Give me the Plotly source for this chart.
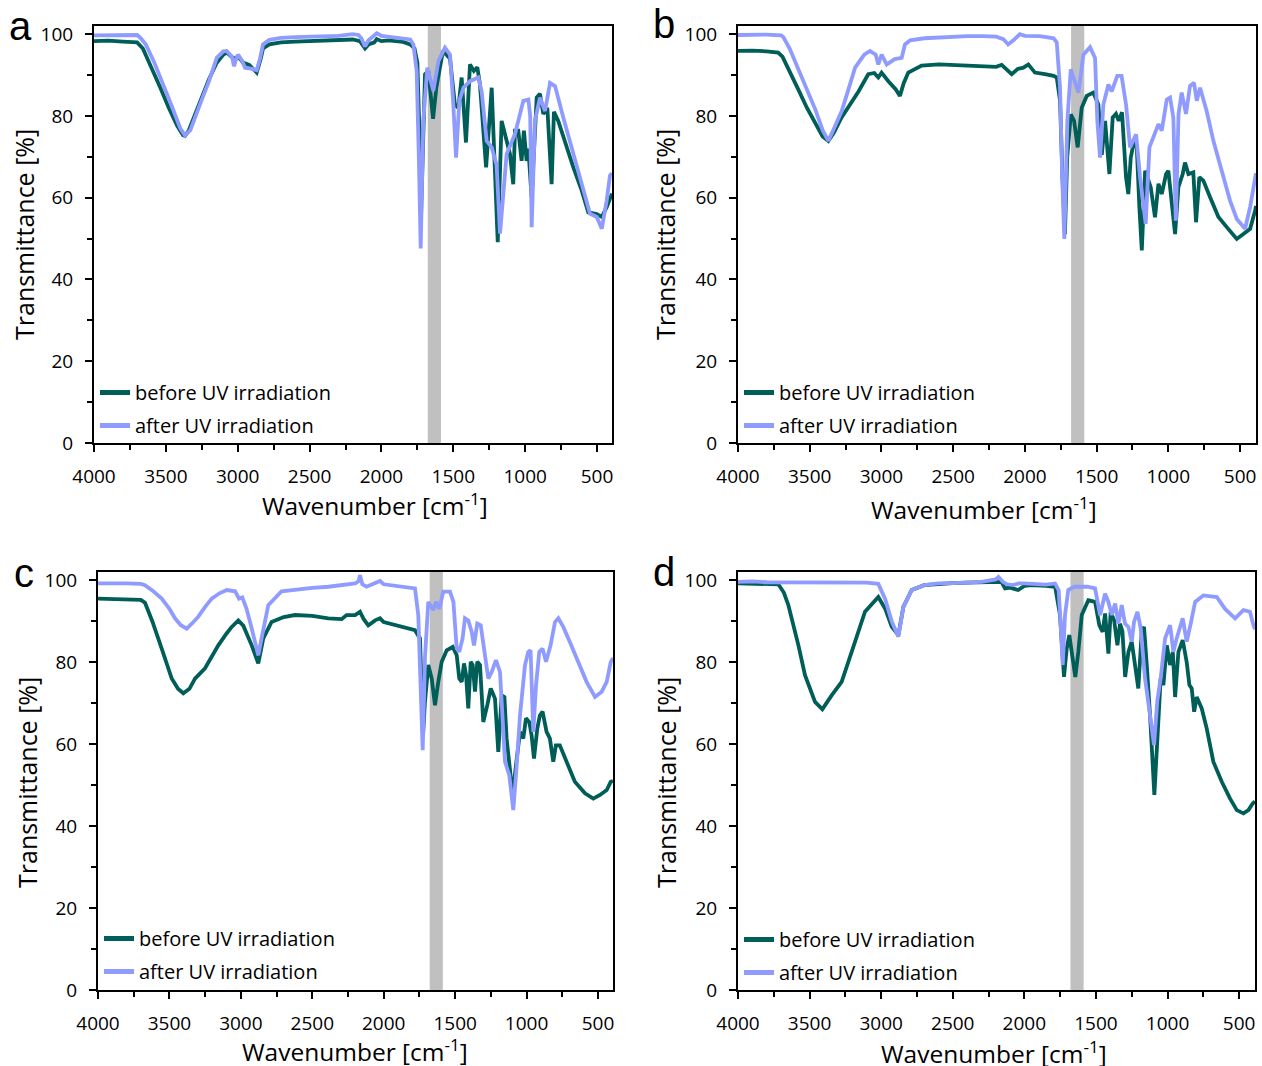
import plotly.graph_objects as go

W, H = 1262, 1066

# ---------------- data (wavenumber cm-1, transmittance %) ----------------
wn_a_before = [4000, 3900, 3800, 3700, 3660, 3600, 3540, 3480, 3420, 3380, 3367, 3340, 3300, 3262, 3200, 3146, 3100, 3077, 3040, 3026, 2998, 2960, 2920, 2868, 2840, 2824, 2780, 2700, 2600, 2500, 2400, 2300, 2200, 2150, 2114, 2090, 2050, 2033, 2000, 1950, 1900, 1850, 1800, 1770, 1750, 1735, 1725, 1712, 1697, 1674, 1641, 1618, 1572, 1523, 1489, 1465, 1442, 1412, 1384, 1357, 1333, 1315, 1272, 1249, 1233, 1217, 1191, 1164, 1141, 1106, 1083, 1071, 1048, 1025, 1009, 990, 978, 955, 920, 897, 874, 846, 816, 800, 770, 712, 665, 607, 561, 502, 467, 433, 410, 396]
t_a_before = [98.3, 98.4, 98.2, 98.0, 96.5, 92, 87, 82, 77.5, 75.3, 75.1, 76.5, 80, 83, 89, 93, 95, 95.5, 94.5, 94, 94.5, 93, 92.5, 90.6, 94, 96.5, 97.5, 98, 98.2, 98.3, 98.6, 98.6, 98.7, 98.3, 96.5, 97.5, 98, 98.8, 98.3, 98.5, 98.3, 98.1, 97.5, 96.5, 93, 75, 55, 75, 90.2, 91, 79.3, 87, 95.9, 94, 82.8, 82, 89.4, 73.5, 92.6, 91, 91.9, 87.8, 67.4, 78.8, 86.9, 72.3, 49.1, 78.8, 75.6, 70.7, 63.3, 76.4, 76.4, 69, 76.4, 69, 72, 60, 84.5, 85.4, 80.5, 82, 63.3, 81, 78.8, 72.3, 67.4, 61.8, 56.4, 56, 55.3, 57.7, 60, 61]

wn_a_after = [4000, 3900, 3800, 3700, 3680, 3640, 3580, 3520, 3460, 3400, 3367, 3330, 3290, 3262, 3200, 3146, 3100, 3077, 3040, 3026, 3010, 2998, 2970, 2949, 2900, 2868, 2845, 2824, 2780, 2700, 2600, 2500, 2400, 2300, 2200, 2160, 2140, 2114, 2090, 2060, 2033, 2000, 1950, 1900, 1850, 1800, 1778, 1755, 1740, 1727, 1709, 1681, 1639, 1604, 1558, 1523, 1500, 1481, 1458, 1430, 1384, 1326, 1303, 1268, 1233, 1199, 1175, 1150, 1129, 1071, 1013, 978, 965, 955, 945, 932, 897, 862, 827, 792, 735, 665, 607, 549, 502, 467, 433, 410, 396]
t_a_after = [99.7, 99.8, 99.9, 99.8, 99.2, 97.5, 93, 88, 82.5, 77, 75.2, 76.5, 80, 82.9, 88.5, 94.2, 95.8, 95.9, 94.5, 92.2, 94, 95, 93.5, 91.8, 91.5, 91.2, 94, 97.5, 98.6, 99.1, 99.3, 99.4, 99.5, 99.6, 100, 99.8, 99, 97, 98.5, 99.5, 100.2, 99.6, 99.4, 99.2, 99, 98.7, 97.5, 91, 70, 47.6, 78.8, 91.8, 86.1, 93.4, 96.7, 95, 82.8, 69.8, 83.7, 86.9, 88.5, 89.4, 86, 73.9, 72.3, 68, 51.2, 62, 70.7, 75.6, 83.7, 84, 80, 52.8, 65, 78.8, 84.5, 81.2, 88.1, 87.3, 79.6, 70.7, 64.1, 56.1, 55.3, 52.4, 59.3, 65.4, 66]

wn_b_before = [4000, 3900, 3800, 3720, 3690, 3640, 3580, 3520, 3460, 3410, 3370, 3330, 3280, 3231, 3160, 3092, 3050, 3022, 2999, 2952, 2900, 2871, 2845, 2813, 2720, 2600, 2500, 2400, 2300, 2200, 2162, 2120, 2092, 2050, 2010, 1976, 1930, 1860, 1800, 1778, 1755, 1738, 1721, 1705, 1680, 1657, 1632, 1604, 1569, 1523, 1488, 1464, 1441, 1411, 1388, 1365, 1346, 1323, 1295, 1279, 1262, 1239, 1220, 1202, 1185, 1162, 1146, 1123, 1093, 1069, 1046, 1016, 1000, 976, 953, 930, 900, 884, 860, 826, 807, 784, 756, 709, 651, 593, 523, 477, 430, 395, 389]
t_b_before = [95.9, 96, 95.8, 95.5, 94.5, 91, 86.5, 82, 78, 75, 73.9, 76, 79.5, 82, 86, 90.2, 90.5, 89.4, 90.6, 88.5, 86.5, 84.9, 88, 90.6, 92.3, 92.6, 92.5, 92.3, 92.2, 92, 92.5, 91, 90.2, 91.5, 91.8, 92.6, 90.6, 90.2, 89.8, 89.4, 83.7, 65, 51.1, 70, 80.4, 78.8, 72.3, 82, 84.9, 85.7, 82.8, 70.5, 78.8, 65.8, 79.6, 80.5, 78.8, 80.9, 65, 60.9, 69.8, 73.9, 72.3, 57.7, 47.1, 66.6, 65, 62.6, 55.2, 63.4, 60.9, 65.8, 66.6, 57.7, 51.1, 62.6, 65.8, 68.6, 65.8, 66.2, 54, 65, 64.2, 60.1, 55.3, 52.8, 49.9, 51.1, 52.4, 56.9, 58]

wn_b_after = [4000, 3900, 3800, 3700, 3684, 3640, 3580, 3520, 3460, 3410, 3370, 3330, 3277, 3230, 3184, 3120, 3080, 3040, 3022, 2999, 2963, 2907, 2859, 2836, 2800, 2700, 2600, 2500, 2400, 2300, 2200, 2150, 2117, 2080, 2035, 2000, 1950, 1900, 1850, 1800, 1778, 1755, 1740, 1725, 1704, 1680, 1627, 1592, 1546, 1511, 1495, 1476, 1453, 1418, 1395, 1356, 1326, 1295, 1267, 1225, 1197, 1158, 1132, 1104, 1069, 1046, 1011, 988, 965, 948, 929, 907, 877, 849, 821, 802, 779, 733, 686, 628, 570, 523, 465, 430, 395, 389]
t_b_after = [99.8, 99.9, 99.9, 99.7, 99.3, 96.5, 91.5, 86.5, 81.5, 76.5, 73.9, 77, 81.2, 86.5, 91.8, 95, 95.9, 95, 92.6, 95, 92.6, 93.9, 94.2, 97.5, 98.5, 99, 99.2, 99.4, 99.5, 99.5, 99.4, 98.8, 97.5, 98.5, 100, 99.6, 99.6, 99.5, 99.3, 99, 98, 86.9, 65, 49.9, 78.8, 91.4, 85.7, 95, 96.8, 94.2, 78.8, 69.8, 82.8, 87.7, 86, 89.8, 89.8, 82.8, 72.3, 75.5, 65, 53.6, 72.3, 74.7, 78, 76.4, 84, 84.5, 79.6, 54.4, 80.5, 85.7, 80.5, 87.3, 88.1, 83.7, 86.9, 81.2, 73.9, 66.6, 59.3, 54.8, 52.4, 57.7, 65, 66]

wn_c_before = [4000, 3900, 3800, 3700, 3671, 3620, 3554, 3484, 3440, 3403, 3360, 3321, 3251, 3200, 3158, 3100, 3064, 3018, 2983, 2924, 2878, 2843, 2785, 2700, 2621, 2500, 2388, 2294, 2260, 2200, 2166, 2140, 2108, 2060, 2026, 2000, 1950, 1900, 1850, 1781, 1746, 1735, 1725, 1712, 1688, 1664, 1641, 1618, 1594, 1559, 1517, 1489, 1471, 1454, 1438, 1424, 1408, 1391, 1377, 1361, 1345, 1326, 1303, 1275, 1251, 1221, 1198, 1174, 1155, 1140, 1116, 1097, 1074, 1046, 1023, 1004, 981, 965, 948, 925, 907, 888, 860, 837, 813, 795, 767, 720, 662, 591, 533, 486, 439, 411, 395]
t_c_before = [95.5, 95.4, 95.3, 95.2, 94.5, 90, 83.3, 76, 73.5, 72.4, 73.5, 76, 78.5, 81.5, 84.1, 87, 88.6, 90.2, 88.9, 84.1, 79.7, 85.8, 89.8, 91, 91.5, 91.3, 90.7, 90.5, 91.5, 91.5, 92.3, 90.5, 89, 90.2, 90.7, 89.8, 89.3, 88.8, 88.5, 87.8, 85.8, 75, 62, 70, 79.3, 76, 69.5, 75.2, 80.1, 82.9, 83.7, 81.7, 76, 75.2, 79.7, 77, 68.7, 80.1, 79.3, 72.8, 80.1, 79.3, 65.4, 69.5, 73.6, 71.1, 58.1, 71.9, 71.5, 61.4, 53.3, 47.6, 54.9, 63, 61.4, 66.3, 65.4, 62.2, 56.5, 63.8, 67, 67.9, 63, 61.4, 55.7, 59.7, 59.7, 55.7, 50.8, 48, 46.7, 47.6, 48.8, 50.8, 51]

wn_c_after = [4000, 3900, 3800, 3700, 3671, 3620, 3554, 3500, 3461, 3420, 3379, 3340, 3298, 3250, 3204, 3150, 3099, 3040, 3013, 2990, 2960, 2924, 2878, 2855, 2808, 2715, 2600, 2500, 2388, 2300, 2200, 2175, 2166, 2150, 2120, 2080, 2040, 2026, 2000, 1950, 1900, 1850, 1781, 1758, 1740, 1727, 1711, 1688, 1653, 1634, 1611, 1583, 1536, 1512, 1489, 1471, 1448, 1431, 1408, 1384, 1368, 1345, 1321, 1291, 1268, 1244, 1214, 1186, 1151, 1121, 1093, 1069, 1046, 1011, 988, 972, 953, 934, 911, 888, 864, 832, 801, 778, 743, 697, 638, 580, 521, 474, 439, 411, 395]
t_c_after = [99.2, 99.3, 99.2, 99.1, 98.8, 97.5, 95.5, 93, 90.7, 89, 88.2, 89.5, 91.1, 93.5, 95.5, 96.8, 97.6, 97.3, 95.5, 95.8, 93, 88.2, 81.7, 85.8, 93.9, 97.3, 97.8, 98.1, 98.4, 98.7, 99.2, 99.8, 101.2, 99, 98.4, 99, 99.6, 99.8, 99, 98.8, 98.7, 98.5, 98, 91.5, 75, 58.5, 81.3, 94.7, 92.7, 94.7, 93, 97.2, 97.2, 94.7, 83.3, 82.5, 85.8, 90.7, 90.2, 87.4, 84.1, 89.4, 89, 80.9, 76, 77.6, 80.5, 77.6, 55.7, 52.4, 43.9, 54.9, 67, 79.3, 82.5, 82.9, 63, 74.3, 82.5, 83.3, 80.1, 84.1, 89.8, 90.7, 88.6, 84.9, 80, 75.2, 71.5, 72.8, 75.2, 80, 81]

wn_d_before = [4000, 3900, 3800, 3718, 3680, 3648, 3578, 3532, 3462, 3411, 3346, 3276, 3206, 3113, 3020, 2973, 2926, 2880, 2845, 2787, 2700, 2600, 2500, 2400, 2300, 2200, 2160, 2135, 2100, 2043, 2000, 1950, 1900, 1850, 1785, 1751, 1723, 1704, 1686, 1663, 1644, 1623, 1599, 1553, 1506, 1476, 1453, 1436, 1413, 1397, 1373, 1350, 1332, 1315, 1296, 1273, 1250, 1227, 1204, 1180, 1164, 1145, 1122, 1092, 1069, 1048, 1029, 1005, 982, 963, 947, 924, 894, 866, 847, 831, 814, 796, 761, 726, 680, 621, 563, 516, 470, 435, 405, 389]
t_d_before = [99.2, 99.1, 99.2, 99, 97, 93.9, 84.1, 76.8, 70.3, 68.5, 71.9, 75.2, 82.5, 92.3, 95.9, 93.1, 88.6, 86.6, 93.5, 97.6, 98.8, 99.1, 99.3, 99.4, 99.4, 99.5, 99.6, 98, 98.2, 97.6, 98.6, 98.8, 98.8, 98.6, 98.4, 91.5, 76.4, 83.3, 86.6, 80, 76.4, 82.5, 91.5, 95.1, 94.7, 89, 87.4, 91.9, 82.1, 92.3, 90.2, 84.1, 89.4, 87.5, 76.4, 82.5, 85, 79.3, 73.6, 87.4, 88.6, 79.3, 67.1, 47.6, 63, 76, 74.4, 84.1, 79.3, 82.5, 71.5, 82.5, 85.4, 80, 74.4, 73.6, 67.9, 71.5, 68.7, 63.8, 55.7, 50.8, 46.7, 43.9, 43.1, 43.9, 45.5, 46]

wn_d_after = [4000, 3900, 3800, 3700, 3500, 3300, 3100, 3020, 2973, 2926, 2880, 2845, 2787, 2700, 2600, 2500, 2400, 2300, 2200, 2181, 2150, 2120, 2080, 2040, 2000, 1950, 1900, 1850, 1785, 1760, 1746, 1732, 1716, 1693, 1650, 1611, 1560, 1506, 1471, 1436, 1413, 1389, 1366, 1343, 1320, 1297, 1273, 1250, 1234, 1210, 1187, 1157, 1122, 1094, 1071, 1048, 1017, 982, 959, 936, 894, 866, 838, 807, 749, 656, 598, 528, 470, 424, 400, 389]
t_d_after = [99.6, 99.7, 99.5, 99.5, 99.4, 99.3, 99.4, 99.1, 95.5, 89.9, 86.2, 93.5, 97.6, 98.8, 99.2, 99.3, 99.5, 99.6, 100.2, 100.8, 99.6, 99, 98.8, 99.2, 99.2, 99.1, 99, 98.9, 99.2, 97.5, 89, 79.3, 91.5, 97.6, 98.4, 98.4, 98.4, 98, 91.5, 96.7, 94.7, 91.5, 94.3, 89.4, 93.9, 89.4, 88.6, 85, 89.8, 92.3, 88.2, 76, 66.3, 59.8, 70.7, 76, 85.8, 89, 82.5, 85.8, 90.7, 85, 89.4, 94.7, 96.3, 95.9, 93, 90.7, 92.7, 92.3, 89, 88]

band_edges = [1678, 1586]          # highlighted region, cm-1
x_ticks = [4000, 3500, 3000, 2500, 2000, 1500, 1000, 500]
y_ticks = [0, 20, 40, 60, 80, 100]
series_names = ["before UV irradiation", "after UV irradiation"]
panel_letters = ["a", "b", "c", "d"]

panels = [
    (wn_a_before, t_a_before, wn_a_after, t_a_after),
    (wn_b_before, t_b_before, wn_b_after, t_b_after),
    (wn_c_before, t_c_before, wn_c_after, t_c_after),
    (wn_d_before, t_d_before, wn_d_after, t_d_after),
]

# ---------------- layout geometry (pixels) ----------------
# plot boxes: left, right, top, bottom
boxes = [(94, 612, 26, 443), (738, 1256, 26, 443), (98, 613, 572, 990), (738, 1255, 572, 990)]
x_right = [396, 389, 395, 389]
xtitle_pos = [(375, 505), (984, 508), (355, 1050), (994, 1052)]
ytitle_pos = [(24, 235), (665, 235), (27, 783), (666, 783)]
letter_pos = [(20, 26), (664, 24), (24, 573), (664, 572)]
legend_pos = [(95, 373), (739, 373), (99, 919), (739, 920)]

COL_BEFORE = "#005e58"
COL_AFTER = "#8f9bff"
FONT = "Open Sans"


def px(x):
    return x / W


def py(y):
    return 1 - y / H


fig = go.Figure()
layout = dict(
    width=W, height=H, margin=dict(l=0, r=0, t=0, b=0, autoexpand=False),
    paper_bgcolor="white", plot_bgcolor="white", showlegend=True,
    font=dict(family=FONT, size=19, color="black"),
)
annotations = []
shapes = []

for i, (wb, tb, wa, ta) in enumerate(panels):
    n = "" if i == 0 else str(i + 1)
    xa, ya = "x" + n, "y" + n
    leg = "legend" + n
    for name, xs, ys, col in ((series_names[0], wb, tb, COL_BEFORE), (series_names[1], wa, ta, COL_AFTER)):
        fig.add_trace(go.Scatter(
            x=xs, y=ys, mode="lines", name=name, xaxis=xa, yaxis=ya,
            line=dict(color=col, width=3.8), legend=leg,
            legendgroup=name + n, hoverinfo="skip"))
    l, r, t, b = boxes[i]
    axis_common = dict(
        showgrid=False, zeroline=False, showline=True, linecolor="black", linewidth=2,
        mirror=True, ticks="outside", ticklen=7, tickwidth=2, tickcolor="black",
        tickfont=dict(family=FONT, size=19, color="black"), automargin=False,
    )
    layout["xaxis" + n] = dict(
        axis_common, domain=[px(l), px(r)], anchor=ya,
        range=[4000, x_right[i]], tickvals=x_ticks, ticklabelstandoff=8,
        minor=dict(dtick=250, tick0=0, ticks="outside", ticklen=5, tickwidth=2, tickcolor="black"),
    )
    layout["yaxis" + n] = dict(
        axis_common, domain=[py(b), py(t)], anchor=xa,
        range=[0, 102], tickvals=y_ticks, ticklabelstandoff=8,
        minor=dict(dtick=10, tick0=0, ticks="outside", ticklen=5, tickwidth=2, tickcolor="black"),
    )
    lx, ly = legend_pos[i]
    layout[leg] = dict(
        x=px(lx), y=py(ly), xanchor="left", yanchor="top", bgcolor="rgba(0,0,0,0)",
        font=dict(family=FONT, size=20, color="black"), traceorder="grouped",
        tracegroupgap=4, itemsizing="constant",
    )
    shapes.append(dict(
        type="rect", xref=xa, yref=ya + " domain", x0=band_edges[0], x1=band_edges[1],
        y0=0, y1=1, fillcolor="#c0c0c0", line=dict(width=0), layer="below"))
    tx, ty = xtitle_pos[i]
    annotations.append(dict(
        text="Wavenumber [cm<sup>-1</sup>]", x=px(tx), y=py(ty), xref="paper", yref="paper",
        showarrow=False, xanchor="center", yanchor="middle",
        font=dict(family=FONT, size=24.5, color="black")))
    yx, yy = ytitle_pos[i]
    annotations.append(dict(
        text="Transmittance [%]", x=px(yx), y=py(yy), xref="paper", yref="paper",
        showarrow=False, xanchor="center", yanchor="middle", textangle=-90,
        font=dict(family=FONT, size=25, color="black")))
    kx, ky = letter_pos[i]
    annotations.append(dict(
        text=panel_letters[i], x=px(kx), y=py(ky), xref="paper", yref="paper",
        showarrow=False, xanchor="center", yanchor="middle",
        font=dict(family="Liberation Sans", size=40, color="black")))

layout["annotations"] = annotations
layout["shapes"] = shapes
fig.update_layout(**layout)
fig.write_html("out.html")
